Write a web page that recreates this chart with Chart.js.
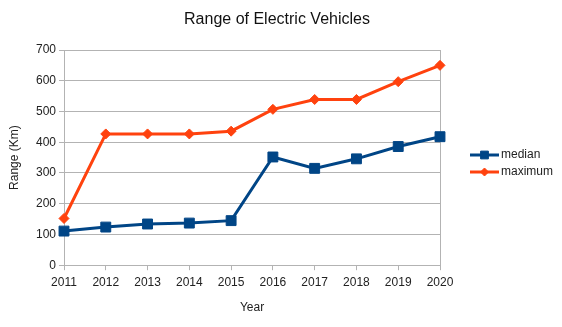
<!DOCTYPE html>
<html>
<head>
<meta charset="utf-8">
<script src="https://cdn.jsdelivr.net/npm/chart.js@4.4.1/dist/chart.umd.min.js"></script>
<style>
  html, body { margin: 0; padding: 0; background: #fff; }
  #wrap { width: 562px; height: 327px; }
</style>
</head>
<body>
<div id="wrap"><canvas id="c" width="562" height="327"></canvas></div>
<script>
// Yearly EV range figures (km)
const years = ['2011', '2012', '2013', '2014', '2015', '2016', '2017', '2018', '2019', '2020'];
const medianRange = [111, 124, 134, 137, 145, 352, 315, 346, 386, 418];
const maximumRange = [152, 427, 427, 427, 436, 507, 539, 539, 597, 650];
const yTicks = [0, 100, 200, 300, 400, 500, 600, 700];
const chartTitle = 'Range of Electric Vehicles';

const FONT = 'Liberation Sans, Arial, sans-serif';
const BLUE = '#004586';
const ORANGE = '#ff420e';
const GRID = '#b3b3b3';
const TEXT = '#222';

// Title centred over the whole canvas
const pageTitle = {
  id: 'pageTitle',
  afterDraw(chart) {
    const ctx = chart.ctx;
    ctx.save();
    ctx.fillStyle = '#111';
    ctx.font = '16px ' + FONT;
    ctx.textAlign = 'center';
    ctx.textBaseline = 'middle';
    ctx.fillText(chartTitle, 277, 20);
    ctx.restore();
  }
};

// Legend with a short line segment and marker for each series
const lineLegend = {
  id: 'lineLegend',
  afterDraw(chart) {
    const ctx = chart.ctx;
    const items = chart.data.datasets;
    const x0 = 470, x1 = 499, tx = 501;
    const ys = [155, 172];
    ctx.save();
    items.forEach((ds, i) => {
      const y = ys[i];
      ctx.strokeStyle = ds.borderColor;
      ctx.lineWidth = 3;
      ctx.beginPath();
      ctx.moveTo(x0, y);
      ctx.lineTo(x1, y);
      ctx.stroke();
      ctx.fillStyle = ds.pointBackgroundColor;
      ctx.strokeStyle = ds.pointBorderColor;
      ctx.lineWidth = 1;
      Chart.helpers.drawPoint(ctx, {
        pointStyle: ds.pointStyle,
        rotation: 0,
        radius: ds.legendRadius,
        borderWidth: 1
      }, (x0 + x1) / 2, y);
      ctx.fillStyle = TEXT;
      ctx.font = '12px ' + FONT;
      ctx.textBaseline = 'middle';
      ctx.textAlign = 'left';
      ctx.fillText(ds.label, tx, y);
    });
    ctx.restore();
  }
};

new Chart(document.getElementById('c'), {
  type: 'line',
  data: {
    labels: years,
    datasets: [
      {
        label: 'median',
        data: medianRange,
        borderColor: BLUE,
        backgroundColor: BLUE,
        pointBackgroundColor: BLUE,
        pointBorderColor: BLUE,
        borderWidth: 3,
        pointStyle: 'rect',
        pointRadius: 7,
        pointBorderWidth: 1,
        legendRadius: 5.5,
        tension: 0
      },
      {
        label: 'maximum',
        data: maximumRange,
        borderColor: ORANGE,
        backgroundColor: ORANGE,
        pointBackgroundColor: ORANGE,
        pointBorderColor: ORANGE,
        borderWidth: 3,
        pointStyle: 'rectRot',
        pointRadius: 5,
        pointBorderWidth: 1,
        legendRadius: 4,
        tension: 0
      }
    ]
  },
  options: {
    responsive: false,
    animation: false,
    layout: { padding: { left: 0, right: 122, top: 50, bottom: 12 } },
    plugins: {
      legend: { display: false },
      tooltip: { enabled: false },
      title: { display: false }
    },
    scales: {
      x: {
        offset: false,
        title: {
          display: true,
          text: 'Year',
          color: TEXT,
          font: { family: FONT, size: 12 },
          padding: { top: 6, bottom: 0 }
        },
        grid: {
          drawOnChartArea: true,
          color: ctx => (ctx.index === years.length - 1 ? GRID : 'rgba(0,0,0,0)'),
          tickColor: GRID,
          tickLength: 5
        },
        border: { color: GRID, width: 1 },
        ticks: {
          color: TEXT,
          font: { family: FONT, size: 12 },
          maxRotation: 0,
          autoSkip: false,
          padding: 5
        }
      },
      y: {
        min: 0,
        max: 700,
        afterBuildTicks: s => { s.ticks = yTicks.map(v => ({ value: v })); },
        afterFit: s => { s.width = 64; },
        title: {
          display: true,
          text: 'Range (Km)',
          color: TEXT,
          font: { family: FONT, size: 12 },
          padding: { top: 7, bottom: 0 }
        },
        grid: { color: GRID, tickColor: GRID, tickLength: 5 },
        border: { color: GRID, width: 1 },
        ticks: {
          color: TEXT,
          font: { family: FONT, size: 12 },
          padding: 3
        }
      }
    }
  },
  plugins: [pageTitle, lineLegend]
});
</script>
</body>
</html>
